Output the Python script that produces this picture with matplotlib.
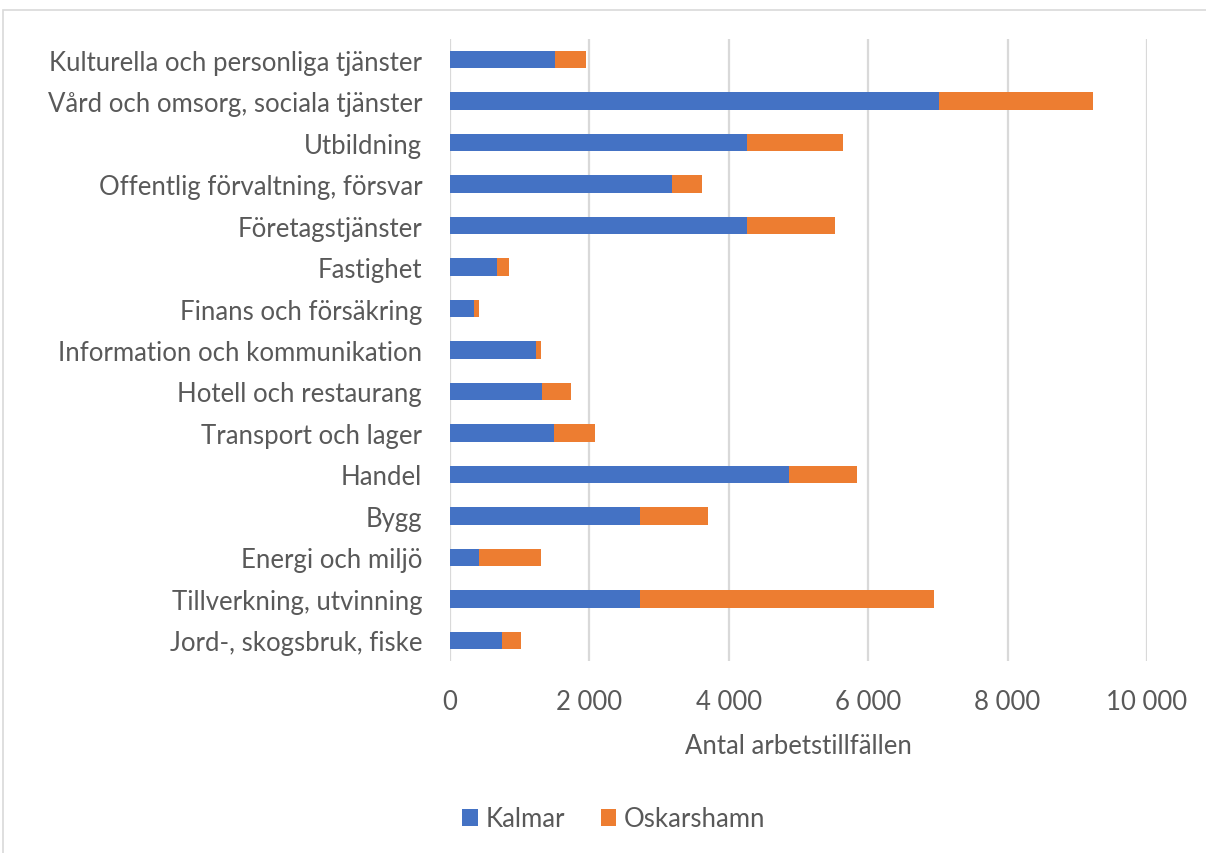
import matplotlib.pyplot as plt
from matplotlib.patches import Rectangle
from matplotlib.ticker import FuncFormatter, MultipleLocator

# Antal arbetstillfällen per bransch, Kalmar och Oskarshamn
branscher = [
    "Kulturella och personliga tjänster",
    "Vård och omsorg, sociala tjänster",
    "Utbildning",
    "Offentlig förvaltning, försvar",
    "Företagstjänster",
    "Fastighet",
    "Finans och försäkring",
    "Information och kommunikation",
    "Hotell och restaurang",
    "Transport och lager",
    "Handel",
    "Bygg",
    "Energi och miljö",
    "Tillverkning, utvinning",
    "Jord-, skogsbruk, fiske",
]
kalmar = [1510, 7010, 4260, 3180, 4260, 680, 350, 1230, 1320, 1490, 4860, 2720, 410, 2720, 740]
oskarshamn = [435, 2210, 1375, 435, 1260, 165, 60, 75, 415, 595, 975, 980, 895, 4220, 285]

BLUE = "#4472C4"
ORANGE = "#ED7D31"
TEXT = "#595959"
GRID = "#D9D9D9"
FS = 18.5

plt.rcParams["font.family"] = ["Lato", "DejaVu Sans"]

fig = plt.figure(figsize=(12.06, 8.54), dpi=100)
ax = fig.add_axes([450 / 1206, 1 - 662 / 854, 697 / 1206, 622 / 854])

y = list(range(len(branscher)))
ax.barh(y, kalmar, height=0.42, color=BLUE, label="Kalmar", zorder=3)
ax.barh(y, oskarshamn, left=kalmar, height=0.42, color=ORANGE,
        label="Oskarshamn", zorder=3)

ax.set_ylim(len(branscher) - 0.5, -0.5)
ax.set_yticks(y)
ax.set_yticklabels(branscher)
ax.set_xlim(0, 10000)
ax.xaxis.set_major_locator(MultipleLocator(2000))
ax.xaxis.set_major_formatter(FuncFormatter(lambda v, p: f"{int(v):,}".replace(",", " ")))

ax.grid(axis="x", color=GRID, linewidth=1.6, zorder=0)
for s in ax.spines.values():
    s.set_visible(False)
ax.tick_params(axis="both", length=0, labelsize=FS, colors=TEXT)
ax.tick_params(axis="y", pad=20)
ax.tick_params(axis="x", pad=20)

ax.set_xlabel("Antal arbetstillfällen", fontsize=FS, color=TEXT, labelpad=14)

fig.legend(loc="center", bbox_to_anchor=(614 / 1206, 1 - 820 / 854), ncol=2,
           frameon=False, fontsize=FS, labelcolor=TEXT, handlelength=0.6,
           handleheight=0.6, handletextpad=0.3, columnspacing=1.4)

# chart frame
fig.patches.append(Rectangle((3 / 1206, -0.02), 1.1, 1 - 11 / 854 + 0.02,
                             transform=fig.transFigure, fill=False,
                             edgecolor=GRID, linewidth=1.2))

fig.savefig("out.png", dpi=100)
